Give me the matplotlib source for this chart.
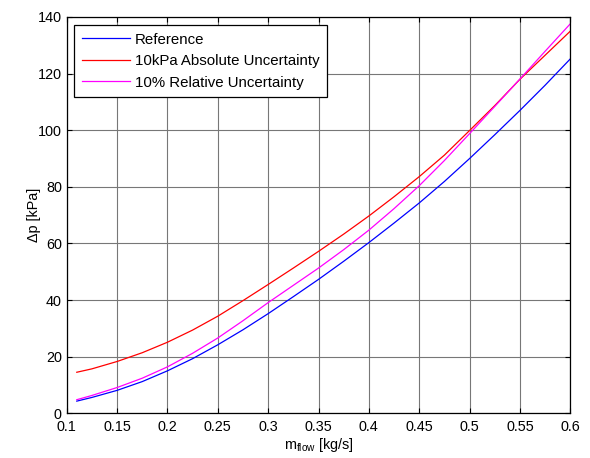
import matplotlib
matplotlib.use("Agg")
import matplotlib.pyplot as plt

plt.rcParams['font.family'] = ['Liberation Sans', 'DejaVu Sans']
plt.rcParams['mathtext.fontset'] = 'custom'
plt.rcParams['mathtext.rm'] = 'Liberation Sans'
plt.rcParams['mathtext.it'] = 'Liberation Sans'

# data
m_flow = [0.11, 0.125, 0.15, 0.175, 0.2, 0.225, 0.25, 0.275, 0.3, 0.325, 0.35,
          0.375, 0.4, 0.425, 0.45, 0.475, 0.5, 0.525, 0.55, 0.575, 0.6]
dp_reference = [4.3, 5.6, 8.1, 11.2, 15.0, 19.3, 24.2, 29.5, 35.2, 41.2, 47.3,
                53.7, 60.3, 67.2, 74.3, 81.9, 90.0, 98.4, 107.0, 115.9, 125.2]
dp_absolute = [14.5, 15.7, 18.3, 21.4, 25.1, 29.4, 34.3, 39.8, 45.5, 51.3, 57.2,
               63.3, 69.7, 76.5, 83.6, 91.2, 99.9, 108.7, 118.0, 126.5, 135.0]
dp_relative = [4.8, 6.3, 9.1, 12.4, 16.4, 21.2, 26.6, 32.7, 39.1, 45.2, 51.3,
               57.8, 64.7, 72.3, 80.4, 89.3, 98.8, 108.4, 118.1, 127.9, 137.6]

series_labels = ['Reference', '10kPa Absolute Uncertainty', '10% Relative Uncertainty']
series_colors = ['#0000ff', '#ff0000', '#ff00ff']

x_ticks = [0.1, 0.15, 0.2, 0.25, 0.3, 0.35, 0.4, 0.45, 0.5, 0.55, 0.6]
x_tick_labels = ['0.1', '0.15', '0.2', '0.25', '0.3', '0.35', '0.4', '0.45', '0.5', '0.55', '0.6']
y_ticks = [0, 20, 40, 60, 80, 100, 120, 140]

FS = 10.4
LFS = 10.8

fig = plt.figure(figsize=(5.9, 4.58), dpi=100)
ax = fig.add_axes([66.7/590, (458-413.3)/458, 503.6/590, 396.3/458])

for y, lab, col in zip([dp_reference, dp_absolute, dp_relative], series_labels, series_colors):
    ax.plot(m_flow, y, color=col, lw=0.9, label=lab)

ax.set_xlim(0.1, 0.6)
ax.set_ylim(0, 140)
ax.set_xticks(x_ticks)
ax.set_xticklabels(x_tick_labels)
ax.set_yticks(y_ticks)
ax.grid(True, color='#777777', lw=0.8, ls='-')
ax.set_axisbelow(True)
ax.tick_params(direction='in', top=True, right=True, length=3.5, width=0.8,
               labelsize=FS, colors='black')
ax.tick_params(axis='x', pad=5.0)
ax.tick_params(axis='y', pad=3.5)
for s in ax.spines.values():
    s.set_linewidth(0.9)

ax.set_xlabel(r'm$_{\mathrm{flow}}$ [kg/s]', fontsize=FS, labelpad=1.5)
ax.set_ylabel('Δp [kPa]', fontsize=FS, labelpad=-2)

leg = ax.legend(loc='upper left', bbox_to_anchor=(0.0145, 0.9798), fontsize=LFS,
                frameon=True, fancybox=False, edgecolor='black', framealpha=1,
                handlelength=3.2, handletextpad=0.35, borderpad=0.5, labelspacing=0.5,
                borderaxespad=0)
leg.get_frame().set_linewidth(0.9)

fig.savefig('out.png', dpi=100)
